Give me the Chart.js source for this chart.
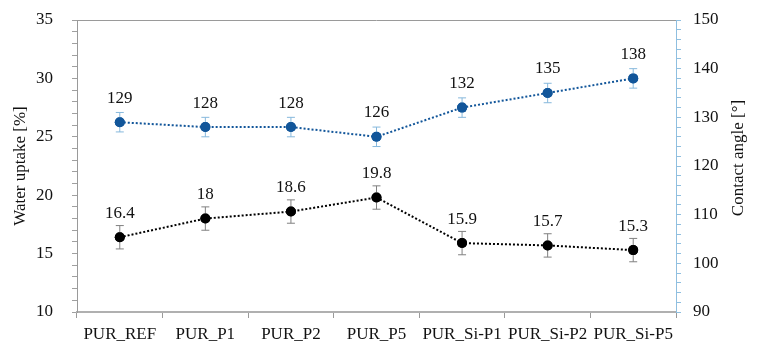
<!DOCTYPE html>
<html>
<head>
<meta charset="utf-8">
<script src="https://cdn.jsdelivr.net/npm/chart.js@4/dist/chart.umd.min.js"></script>
<style>
  html, body { margin: 0; padding: 0; background: #fff; }
  #wrap { width: 758px; height: 359px; }
</style>
</head>
<body>
<div id="wrap"><canvas id="chart1"></canvas></div>
<script>
const samples = ['PUR_REF', 'PUR_P1', 'PUR_P2', 'PUR_P5', 'PUR_Si-P1', 'PUR_Si-P2', 'PUR_Si-P5'];
const waterUptake = [16.4, 18, 18.6, 19.8, 15.9, 15.7, 15.3];
const waterErr = [1, 1, 1, 1, 1, 1, 1];
const contactAngle = [129, 128, 128, 126, 132, 135, 138];
const angleErr = [2, 2, 2, 2, 2, 2, 2];
const axisTitles = ['Water uptake [%]', 'Contact angle [°]'];

const serif = '"Liberation Serif", "DejaVu Serif", serif';
Chart.defaults.font.family = serif;
Chart.defaults.font.size = 17;
Chart.defaults.color = '#111';

const blue = '#12569a';

// error bars, value labels, frame and axis titles
const extras = {
  id: 'extras',
  afterDatasetsDraw(chart) {
    const ctx = chart.ctx;
    const errs = [waterErr, angleErr];
    const errColors = ['#808080', '#86b8dc'];
    ctx.save();
    chart.data.datasets.forEach((ds, i) => {
      const meta = chart.getDatasetMeta(i);
      const ys = chart.scales[ds.yAxisID];
      meta.data.forEach((pt, j) => {
        const v = ds.data[j];
        const top = ys.getPixelForValue(v + errs[i][j]);
        const bot = ys.getPixelForValue(v - errs[i][j]);
        ctx.strokeStyle = errColors[i];
        ctx.lineWidth = 1;
        ctx.beginPath();
        ctx.moveTo(pt.x, top); ctx.lineTo(pt.x, bot);
        ctx.moveTo(pt.x - 4, top); ctx.lineTo(pt.x + 4, top);
        ctx.moveTo(pt.x - 4, bot); ctx.lineTo(pt.x + 4, bot);
        ctx.stroke();
      });
    });
    // points back on top of the bars
    chart.data.datasets.forEach((ds, i) => {
      chart.getDatasetMeta(i).data.forEach(pt => pt.draw(ctx));
    });
    ctx.fillStyle = '#111';
    ctx.font = '17px ' + serif;
    ctx.textAlign = 'center';
    ctx.textBaseline = 'middle';
    chart.data.datasets.forEach((ds, i) => {
      chart.getDatasetMeta(i).data.forEach((pt, j) => {
        ctx.fillText(String(ds.data[j]), pt.x, pt.y - 24);
      });
    });
    const a = chart.chartArea;
    ctx.strokeStyle = '#9a9a9a';
    ctx.lineWidth = 1;
    ctx.beginPath();
    ctx.moveTo(a.left, a.top + 0.5); ctx.lineTo(a.right, a.top + 0.5);
    ctx.stroke();
    // both titles read bottom-to-top
    const midY = (a.top + a.bottom) / 2;
    [[21, midY, axisTitles[0]], [739, midY - 8, axisTitles[1]]].forEach(([x, y, t]) => {
      ctx.save();
      ctx.translate(x, y);
      ctx.rotate(-Math.PI / 2);
      ctx.fillText(t, 0, 0);
      ctx.restore();
    });
    ctx.restore();
  }
};

new Chart(document.getElementById('chart1'), {
  type: 'line',
  data: {
    labels: samples,
    datasets: [
      {
        label: 'Water uptake',
        data: waterUptake,
        yAxisID: 'y',
        borderColor: '#000',
        backgroundColor: '#000',
        borderWidth: 2,
        borderDash: [2, 2],
        pointRadius: 5,
        pointHoverRadius: 5,
        pointBorderWidth: 0
      },
      {
        label: 'Contact angle',
        data: contactAngle,
        yAxisID: 'y1',
        borderColor: blue,
        backgroundColor: blue,
        borderWidth: 2,
        borderDash: [2, 2],
        pointRadius: 5,
        pointHoverRadius: 5,
        pointBorderWidth: 0
      }
    ]
  },
  options: {
    responsive: true,
    maintainAspectRatio: false,
    animation: false,
    layout: { padding: { top: 20, left: 0, right: 0, bottom: 0 } },
    plugins: {
      legend: { display: false },
      tooltip: { enabled: false }
    },
    scales: {
      x: {
        offset: true,
        grid: { offset: true, drawOnChartArea: false, tickLength: 6, color: '#9a9a9a' },
        border: { color: '#b0b0b0', width: 2 },
        ticks: { padding: 6, maxRotation: 0, autoSkip: false },
        afterFit(s) { s.height = 47; }
      },
      y: {
        position: 'left',
        min: 10, max: 35,
        grid: { drawOnChartArea: false, tickLength: 5, color: '#a0a0a0' },
        border: { color: '#9a9a9a', width: 1 },
        ticks: {
          stepSize: 1, autoSkip: false, padding: 19,
          callback: v => (v % 5 === 0 ? v : '')
        },
        afterFit(s) { s.width = 77; s.paddingTop = 0; s.paddingBottom = 0; }
      },
      y1: {
        position: 'right',
        min: 90, max: 150,
        grid: { drawOnChartArea: false, tickLength: 5, color: '#8fbfe0' },
        border: { color: '#8fbfe0', width: 1 },
        ticks: {
          stepSize: 2, autoSkip: false, padding: 12,
          callback: v => (v % 10 === 0 ? v : '')
        },
        afterFit(s) { s.width = 82; s.paddingTop = 0; s.paddingBottom = 0; }
      }
    }
  },
  plugins: [extras]
});
</script>
</body>
</html>
